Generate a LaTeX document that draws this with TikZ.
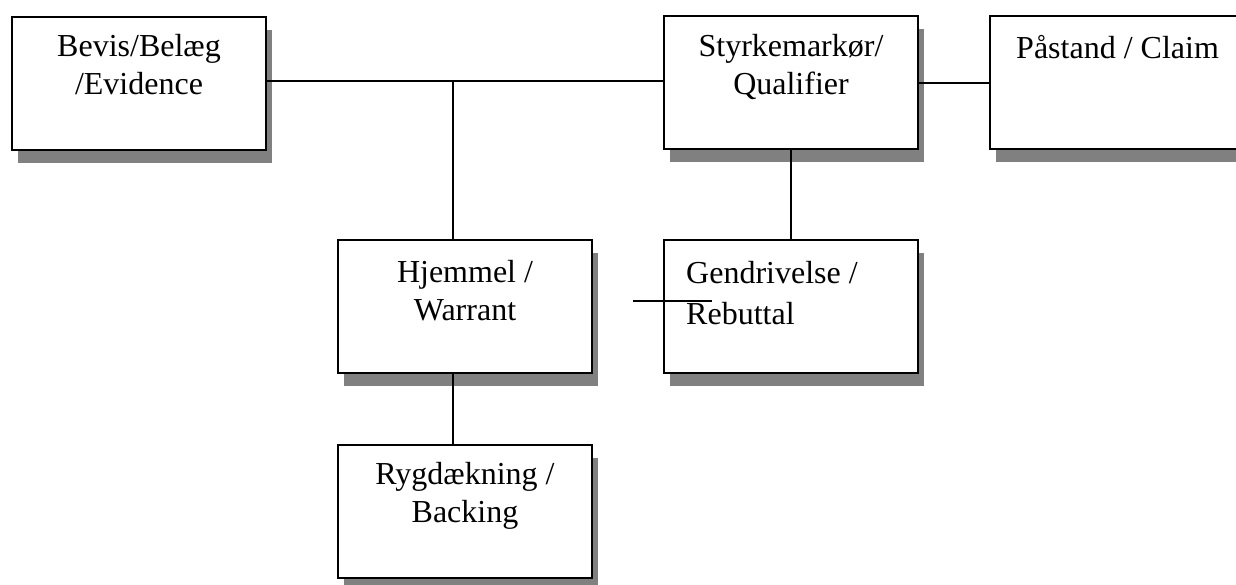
\documentclass[tikz,border=0pt]{standalone}
\usepackage{fontspec}
\setmainfont{Liberation Serif}
\usetikzlibrary{positioning,shadows}

\tikzset{
  box/.style={draw, line width=2pt, fill=white, minimum width=254pt, minimum height=133pt, inner sep=0pt,
    drop shadow={shadow xshift=6pt, shadow yshift=-13pt, fill=black!50, opacity=1}},
  lbl/.style={align=center, inner sep=0pt, font=\fontsize{32}{38}\selectfont},
  link/.style={line width=2pt}
}

\begin{document}
\begin{tikzpicture}[x=1pt, y=-1pt]
		%%%%% START %%%%%
		\clip (0,0) rectangle (1236,584);
		\useasboundingbox (0,0) rectangle (1236,584);
		
		% boxes
		\node[box] (evidence) at (139, 83) {};
		\node[box] (qualifier) at (791, 82.5) {};
		\node[box] (claim) at (1117, 82.5) {};
		\node[box] (warrant) at (465, 306) {};
		\node[box] (rebuttal) at (791, 306) {};
		\node[box] (backing) at (465, 511.5) {};
		
		% texts
		\node[lbl, below=19pt of evidence.north] (evidencetxt) {Bevis/Belæg\\/Evidence};
		\node[lbl, below=19pt of qualifier.north] (qualifiertxt) {Styrkemarkør/\\Qualifier};
		\node[lbl, anchor=base west] (claimtxt) at (1016, 58) {Påstand / Claim};
		\node[lbl, below=21.5pt of warrant.north] (warranttxt) {Hjemmel /\\Warrant};
		\node[lbl, align=left, anchor=north west, font=\fontsize{32}{41}\selectfont] (rebuttaltxt) at (686, 261) {Gendrivelse /\\Rebuttal};
		\node[lbl, below=18pt of backing.north] (backingtxt) {Rygdækning /\\Backing};
		
		% connectors
		\coordinate (joint) at (453, 81);
		\draw[link] (evidence.east |- joint) -- (qualifier.west |- joint);
		\draw[link] (joint) -- (joint |- warrant.north);
		\draw[link] (qualifier.east) -- (claim.west);
		\draw[link] (qualifier.south) -- (rebuttal.north);
		\draw[link] (warrant.south -| joint) -- (backing.north -| joint);
		
		\coordinate (strayA) at (633, 301);
		\coordinate (strayB) at (712, 301);
		\draw[link] (strayA) -- (strayB);
		%%%%% END %%%%%
\end{tikzpicture}
\end{document}
